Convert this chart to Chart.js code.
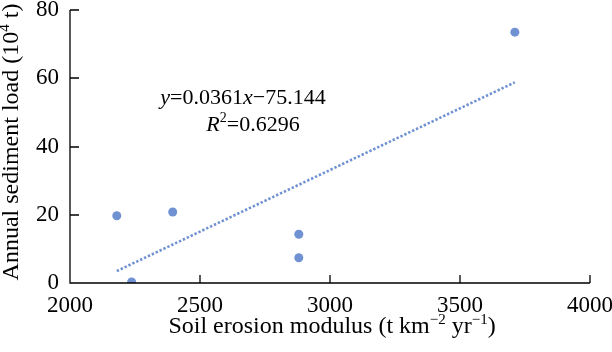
<!DOCTYPE html>
<html>
<head>
<meta charset="utf-8">
<script src="https://cdn.jsdelivr.net/npm/chart.js@4"></script>
<style>
  html, body { margin: 0; padding: 0; background: #fff; }
  #wrap { width: 612px; height: 352px; position: relative; }
</style>
</head>
<body>
<div id="wrap"><canvas id="chart"></canvas></div>
<script>
// erosion modulus (t km-2 yr-1) vs annual sediment load (10^4 t)
var erosionX = [2180, 2395, 2237, 2880, 2880, 3711];
var sedimentY = [19.7, 20.8, 0.3, 14.3, 7.4, 73.5];

// linear trendline ends
var trendX = [2180, 3711];
var trendY = [3.5, 58.8];

var xTicks = [2000, 2500, 3000, 3500, 4000];
var yTicks = [0, 20, 40, 60, 80];

var SERIF = '"Liberation Serif", "Times New Roman", serif';
var BLUE = 'rgb(112,146,210)';

Chart.defaults.font.family = SERIF;
Chart.defaults.font.size = 23;
Chart.defaults.color = '#000';

function richWidth(ctx, parts, size) {
  var w = 0;
  parts.forEach(function (p) {
    ctx.font = (p.it ? 'italic ' : '') + (p.sup ? Math.round(size * 0.64) : size) + 'px ' + SERIF;
    w += ctx.measureText(p.t).width;
  });
  return w;
}

function drawRich(ctx, parts, size, cx, cy) {
  var w = richWidth(ctx, parts, size);
  var x = cx - w / 2;
  ctx.textBaseline = 'middle';
  ctx.textAlign = 'left';
  parts.forEach(function (p) {
    var s = p.sup ? Math.round(size * 0.64) : size;
    ctx.font = (p.it ? 'italic ' : '') + s + 'px ' + SERIF;
    ctx.fillText(p.t, x, p.sup ? cy - size * 0.3 : cy);
    x += ctx.measureText(p.t).width;
  });
}

var decorPlugin = {
  id: 'decor',
  afterDraw: function (chart) {
    var ctx = chart.ctx;
    var xs = chart.scales.x, ys = chart.scales.y;
    var area = chart.chartArea;
    ctx.save();
    ctx.strokeStyle = '#000';
    ctx.lineWidth = 1.3;
    ctx.beginPath();
    ctx.moveTo(area.left, area.top);
    ctx.lineTo(area.left, area.bottom);
    ctx.lineTo(area.right, area.bottom);
    // inside ticks
    xTicks.forEach(function (v) {
      var px = Math.round(xs.getPixelForValue(v));
      ctx.moveTo(px, area.bottom);
      ctx.lineTo(px, area.bottom - 8);
    });
    yTicks.forEach(function (v) {
      var py = Math.round(ys.getPixelForValue(v));
      ctx.moveTo(area.left, py);
      ctx.lineTo(area.left + 9, py);
    });
    ctx.stroke();

    ctx.fillStyle = '#000';
    // equation
    drawRich(ctx, [{ t: 'y', it: true }, { t: '=0.0361' }, { t: 'x', it: true }, { t: '\u221275.144' }], 22, 243, 98);
    drawRich(ctx, [{ t: 'R', it: true }, { t: '2', sup: true }, { t: '=0.6296' }], 22, 253, 125);

    // x title
    drawRich(ctx, [{ t: 'Soil erosion modulus (t km' }, { t: '\u22122', sup: true }, { t: ' yr' }, { t: '\u22121', sup: true }, { t: ')' }],
      24, 332, 327);

    // y title
    ctx.translate(12, 142);
    ctx.rotate(-Math.PI / 2);
    drawRich(ctx, [{ t: 'Annual sediment load (10' }, { t: '4', sup: true }, { t: ' t)' }], 24, 0, 0);
    ctx.restore();
  }
};

var scatterPts = erosionX.map(function (x, i) { return { x: x, y: sedimentY[i] }; });
var trendPts = trendX.map(function (x, i) { return { x: x, y: trendY[i] }; });

new Chart(document.getElementById('chart'), {
  type: 'scatter',
  data: {
    datasets: [{
      label: 'Trend',
      data: trendPts,
      showLine: true,
      borderColor: BLUE,
      borderWidth: 2.6,
      borderDash: [2.4, 1.9],
      pointRadius: 0,
      fill: false,
      order: 2
    }, {
      label: 'Sediment',
      data: scatterPts,
      backgroundColor: BLUE,
      borderColor: BLUE,
      pointRadius: 4.5,
      borderWidth: 0,
      order: 1
    }]
  },
  options: {
    responsive: true,
    maintainAspectRatio: false,
    animation: false,
    layout: { padding: { left: 0, right: 22, top: 10, bottom: 0 } },
    plugins: { legend: { display: false }, tooltip: { enabled: false } },
    scales: {
      x: {
        type: 'linear', min: 2000, max: 4000,
        grid: { display: false, drawTicks: false },
        border: { display: false },
        afterBuildTicks: function (s) { s.ticks = xTicks.map(function (v) { return { value: v }; }); },
        afterFit: function (s) { s.height = 69; s.paddingLeft = 0; s.paddingRight = 0; },
        ticks: {
          color: '#000', padding: 9, maxRotation: 0, autoSkip: false,
          font: { family: SERIF, size: 23 },
          callback: function (v) { return String(v); }
        }
      },
      y: {
        min: 0, max: 80,
        grid: { display: false, drawTicks: false },
        border: { display: false },
        afterBuildTicks: function (s) { s.ticks = yTicks.map(function (v) { return { value: v }; }); },
        afterFit: function (s) { s.width = 70; s.paddingTop = 0; s.paddingBottom = 0; },
        ticks: {
          color: '#000', padding: 11,
          font: { family: SERIF, size: 23 },
          callback: function (v) { return String(v); }
        }
      }
    }
  },
  plugins: [decorPlugin]
});
</script>
</body>
</html>
